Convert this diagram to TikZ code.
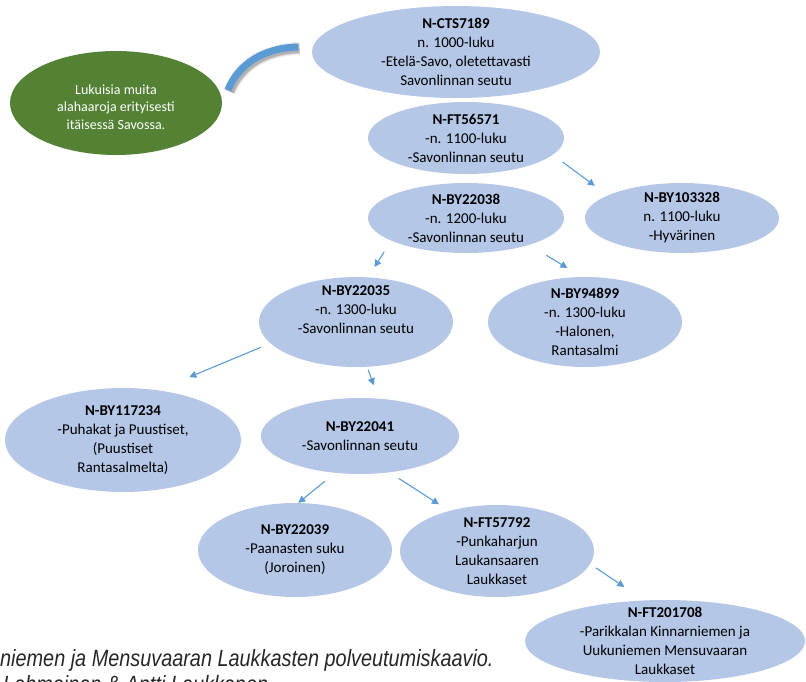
\documentclass[tikz,border=0pt]{standalone}
\usepackage{fontspec}
\setmainfont{Carlito}
\newfontfamily\capfont[FakeStretch=0.845]{Liberation Sans}
\usetikzlibrary{shapes.geometric, arrows.meta}
\definecolor{leafblue}{HTML}{B4C7E7}
\definecolor{linkblue}{HTML}{5B9BD5}
\definecolor{branchgreen}{HTML}{548235}

\begin{document}
\begin{tikzpicture}[x=1pt, y=-1pt,
        %Styles
        Haplo/.style={
            ellipse, fill=leafblue, align=center,
            inner xsep=-10pt, inner ysep=-15pt,
            font=\fontsize{15}{19}\selectfont,
        },
        Link/.style={
            draw=linkblue, line width=1.1pt,
            -{Triangle[length=7pt,width=7pt]},
        }
    ]
\useasboundingbox (0,0) rectangle (806,681);
\clip (0,0) rectangle (806,681);

%haplogroups
\node[Haplo, minimum width=288pt, minimum height=92pt] (cts7189) at (456,52)
    {\textbf{N-CTS7189}\\ n. 1000-luku\\ -Etelä-Savo, oletettavasti\\ Savonlinnan seutu};
\node[Haplo, minimum width=196pt, minimum height=72pt] (ft56571) at (466,138)
    {\textbf{N-FT56571}\\ -n. 1100-luku\\ -Savonlinnan seutu};
\node[Haplo, minimum width=196pt, minimum height=70pt] (by22038) at (466,218)
    {\textbf{N-BY22038}\\ -n. 1200-luku\\ -Savonlinnan seutu};
\node[Haplo, minimum width=194pt, minimum height=70pt] (by103328) at (682,218)
    {\textbf{N-BY103328}\\ n. 1100-luku\\ -Hyvärinen};
\node[Haplo, minimum width=194pt, minimum height=90pt] (by94899) at (585,322)
    {\textbf{N-BY94899}\\ -n. 1300-luku\\ -Halonen,\\ Rantasalmi};
\node[Haplo, minimum width=194pt, minimum height=90pt] (by22035) at (356,322)
    {\textbf{N-BY22035}\\ -n. 1300-luku\\ -Savonlinnan seutu\\ \strut};
\node[Haplo, minimum width=236pt, minimum height=104pt] (by117234) at (123,440)
    {\textbf{N-BY117234}\\ -Puhakat ja Puustiset,\\ (Puustiset\\ Rantasalmelta)};
\node[Haplo, minimum width=198pt, minimum height=76pt] (by22041) at (360,436)
    {\textbf{N-BY22041}\\ -Savonlinnan seutu};
\node[Haplo, minimum width=194pt, minimum height=94pt] (by22039) at (295,550)
    {\textbf{N-BY22039}\\ -Paanasten suku\\ (Joroinen)};
\node[Haplo, minimum width=194pt, minimum height=92pt] (ft57792) at (497,551)
    {\textbf{N-FT57792}\\ -Punkaharjun\\ Laukansaaren\\ Laukkaset};
\node[Haplo, minimum width=280pt, minimum height=82pt] (ft201708) at (665,641)
    {\textbf{N-FT201708}\\ -Parikkalan Kinnarniemen ja\\ Uukuniemen Mensuvaaran\\ Laukkaset};

%other branches
\node[Haplo, fill=branchgreen, text=white, font=\fontsize{14}{17.5}\selectfont,
    minimum width=212pt, minimum height=104pt] (muut) at (116,103)
    {\rule{0pt}{18pt}Lukuisia muita\\ alahaaroja erityisesti\\ itäisessä Savossa.};

%arc with shadow
\foreach \w/\o in {13/0.06, 11/0.1, 9/0.18}
  \draw[line width=\w pt, black, opacity=\o, shift={(1.5,1.5)}]
    (228,90) .. controls (238,65) and (262,48) .. (298,47);
\draw[line width=7pt, linkblue] (228,90) .. controls (238,65) and (262,48) .. (298,47);

%descent
\draw[Link, shorten <=12pt, shorten >=16pt] (ft56571.-11) -- (by103328.163);
\draw[Link, shorten <=13pt, shorten >=12pt] (by22038.197) -- (by22035.75);
\draw[Link, shorten <=20pt, shorten >=17pt] (by22038.-23.5) -- (by94899.94);
\draw[Link, shorten <=10pt, shorten >=34pt] (by22035.194) -- (by117234.55);
\draw[Link, shorten <=3pt, shorten >=14pt] (by22035.-76) -- (by22041.64);
\draw[Link, shorten <=13pt] (by22041.-124) -- (by22039.86);
\draw[Link, shorten <=11pt, shorten >=12pt] (by22041.-51) -- (ft57792.140);
\draw[Link, shorten <=7pt, shorten >=24pt] (ft57792.-8) -- (ft201708.117);

%caption
\node[anchor=base west, inner sep=0pt, text=black!85, font=\capfont\itshape\fontsize{23.5}{26}\selectfont] (cap1) at (0,666)
    {niemen ja Mensuvaaran Laukkasten polveutumiskaavio.};
\node[anchor=base west, inner sep=0pt, text=black!85, font=\capfont\itshape\fontsize{23.5}{26}\selectfont] (cap2) at (3,692)
    {Lahmainen \& Antti Laukkanen};

\end{tikzpicture}
\end{document}
